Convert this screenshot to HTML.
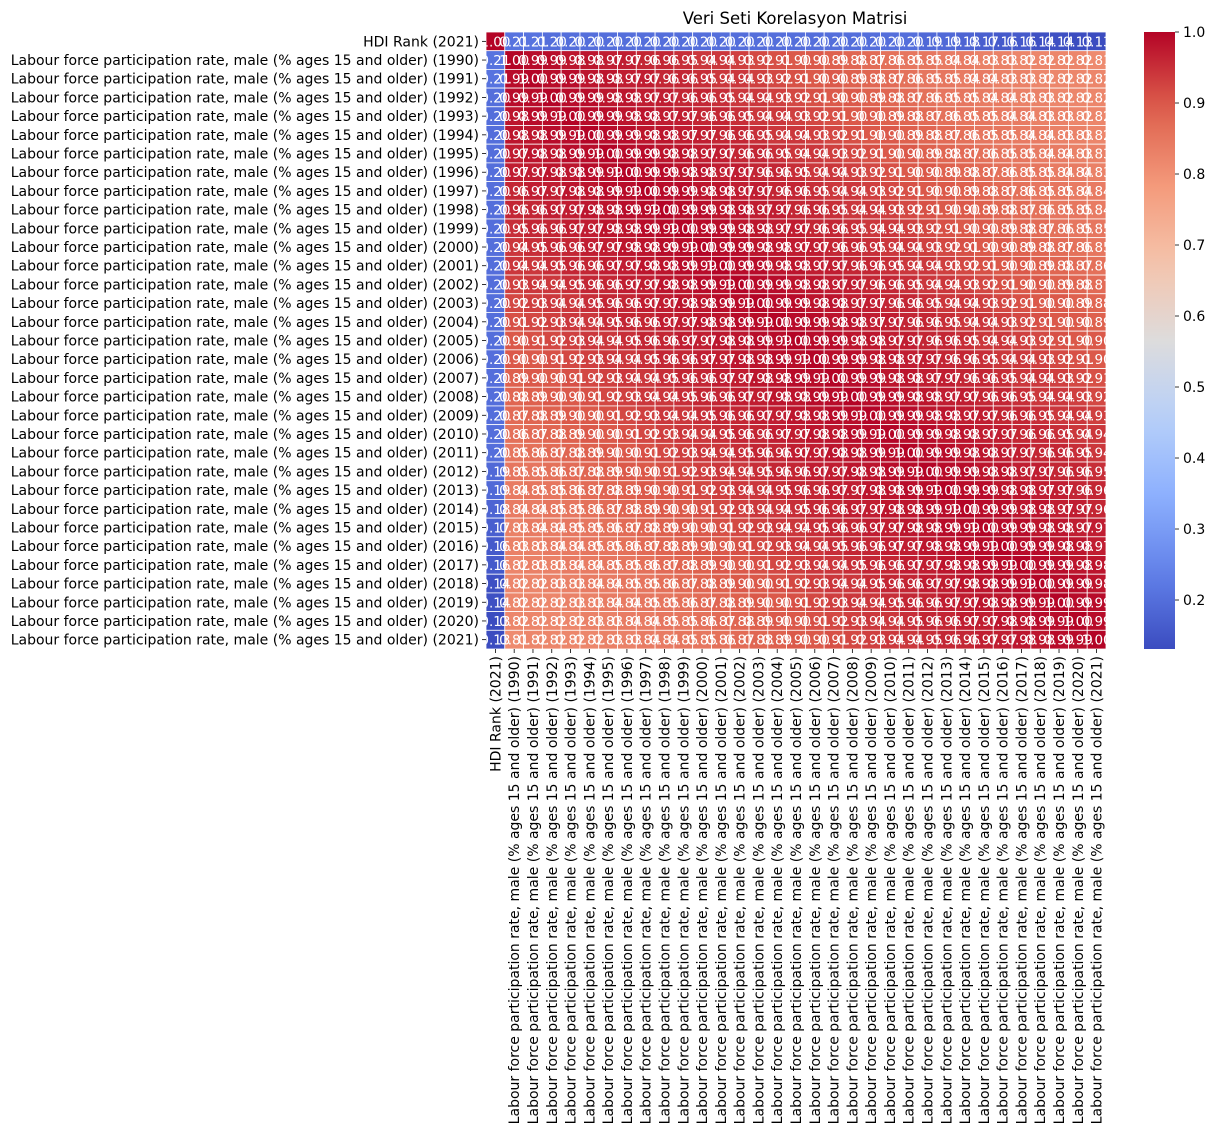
<!DOCTYPE html>
<html><head><meta charset="utf-8">
<style>
html,body{margin:0;padding:0;background:#fff;}
svg{display:block;font-family:"DejaVu Sans","Liberation Sans",sans-serif;}
</style></head>
<body>
<svg id="chart" width="1216" height="1133" viewBox="0 0 1216 1133" xmlns="http://www.w3.org/2000/svg">
<text x="795" y="24" font-size="16.5" text-anchor="middle" fill="#000">Veri Seti Korelasyon Matrisi</text>
<g id="cells"></g>
<g id="annots"></g>
<g id="ylabels"></g>
<g id="xlabels"></g>
<defs><linearGradient id="cbgrad" x1="0" y1="1" x2="0" y2="0"></linearGradient></defs>
<rect x="1144" y="32" width="31" height="617" fill="url(#cbgrad)"/>
<g id="cbticks"></g>
</svg>
<script>
const labels = ["HDI Rank (2021)"];
const years = [1990,1991,1992,1993,1994,1995,1996,1997,1998,1999,2000,2001,2002,2003,2004,2005,2006,2007,2008,2009,2010,2011,2012,2013,2014,2015,2016,2017,2018,2019,2020,2021];
years.forEach(y => labels.push("Labour force participation rate, male (% ages 15 and older) (" + y + ")"));
const hdiCorr = [1.00,0.21,0.21,0.20,0.20,0.20,0.20,0.20,0.20,0.20,0.20,0.20,0.20,0.20,0.20,0.20,0.20,0.20,0.20,0.20,0.20,0.20,0.20,0.19,0.19,0.18,0.17,0.16,0.16,0.14,0.14,0.13,0.13];
const body = [
[100,99,99,98,98,97,97,96,96,95,94,94,93,92,91,90,90,89,88,87,86,85,85,84,84,83,83,82,82,82,82,81],
[99,100,99,99,98,98,97,97,96,96,95,94,94,93,92,91,90,90,89,88,87,86,85,85,84,84,83,83,82,82,82,82],
[99,99,100,99,99,98,98,97,97,96,96,95,94,94,93,92,91,90,90,89,88,87,86,85,85,84,84,83,83,82,82,82],
[98,99,99,100,99,99,98,98,97,97,96,96,95,94,94,93,92,91,90,90,89,88,87,86,85,85,84,84,83,83,82,82],
[98,98,99,99,100,99,99,98,98,97,97,96,96,95,94,94,93,92,91,90,90,89,88,87,86,85,85,84,84,83,83,82],
[97,98,98,99,99,100,99,99,98,98,97,97,96,96,95,94,94,93,92,91,90,90,89,88,87,86,85,85,84,84,83,83],
[97,97,98,98,99,99,100,99,99,98,98,97,97,96,96,95,94,94,93,92,91,90,90,89,88,87,86,85,85,84,84,83],
[96,97,97,98,98,99,99,100,99,99,98,98,97,97,96,96,95,94,94,93,92,91,90,90,89,88,87,86,85,85,84,84],
[96,96,97,97,98,98,99,99,100,99,99,98,98,97,97,96,96,95,94,94,93,92,91,90,90,89,88,87,86,85,85,84],
[95,96,96,97,97,98,98,99,99,100,99,99,98,98,97,97,96,96,95,94,94,93,92,91,90,90,89,88,87,86,85,85],
[94,95,96,96,97,97,98,98,99,99,100,99,99,98,98,97,97,96,96,95,94,94,93,92,91,90,90,89,88,87,86,85],
[94,94,95,96,96,97,97,98,98,99,99,100,99,99,98,98,97,97,96,96,95,94,94,93,92,91,90,90,89,88,87,86],
[93,94,94,95,96,96,97,97,98,98,99,99,100,99,99,98,98,97,97,96,96,95,94,94,93,92,91,90,90,89,88,87],
[92,93,94,94,95,96,96,97,97,98,98,99,99,100,99,99,98,98,97,97,96,96,95,94,94,93,92,91,90,90,89,88],
[91,92,93,94,94,95,96,96,97,97,98,98,99,99,100,99,99,98,98,97,97,96,96,95,94,94,93,92,91,90,90,89],
[90,91,92,93,94,94,95,96,96,97,97,98,98,99,99,100,99,99,98,98,97,97,96,96,95,94,94,93,92,91,90,90],
[90,90,91,92,93,94,94,95,96,96,97,97,98,98,99,99,100,99,99,98,98,97,97,96,96,95,94,94,93,92,91,90],
[89,90,90,91,92,93,94,94,95,96,96,97,97,98,98,99,99,100,99,99,98,98,97,97,96,96,95,94,94,93,92,91],
[88,89,90,90,91,92,93,94,94,95,96,96,97,97,98,98,99,99,100,99,99,98,98,97,97,96,96,95,94,94,93,92],
[87,88,89,90,90,91,92,93,94,94,95,96,96,97,97,98,98,99,99,100,99,99,98,98,97,97,96,96,95,94,94,93],
[86,87,88,89,90,90,91,92,93,94,94,95,96,96,97,97,98,98,99,99,100,99,99,98,98,97,97,96,96,95,94,94],
[85,86,87,88,89,90,90,91,92,93,94,94,95,96,96,97,97,98,98,99,99,100,99,99,98,98,97,97,96,96,95,94],
[85,85,86,87,88,89,90,90,91,92,93,94,94,95,96,96,97,97,98,98,99,99,100,99,99,98,98,97,97,96,96,95],
[84,85,85,86,87,88,89,90,90,91,92,93,94,94,95,96,96,97,97,98,98,99,99,100,99,99,98,98,97,97,96,96],
[84,84,85,85,86,87,88,89,90,90,91,92,93,94,94,95,96,96,97,97,98,98,99,99,100,99,99,98,98,97,97,96],
[83,84,84,85,85,86,87,88,89,90,90,91,92,93,94,94,95,96,96,97,97,98,98,99,99,100,99,99,98,98,97,97],
[83,83,84,84,85,85,86,87,88,89,90,90,91,92,93,94,94,95,96,96,97,97,98,98,99,99,100,99,99,98,98,97],
[82,83,83,84,84,85,85,86,87,88,89,90,90,91,92,93,94,94,95,96,96,97,97,98,98,99,99,100,99,99,98,98],
[82,82,83,83,84,84,85,85,86,87,88,89,90,90,91,92,93,94,94,95,96,96,97,97,98,98,99,99,100,99,99,98],
[82,82,82,83,83,84,84,85,85,86,87,88,89,90,90,91,92,93,94,94,95,96,96,97,97,98,98,99,99,100,99,99],
[82,82,82,82,83,83,84,84,85,85,86,87,88,89,90,90,91,92,93,94,94,95,96,96,97,97,98,98,99,99,100,99],
[81,82,82,82,82,83,83,84,84,85,85,86,87,88,89,90,90,91,92,93,94,94,95,96,96,97,97,98,98,99,99,100]
];
const cbTicks = [0.2,0.3,0.4,0.5,0.6,0.7,0.8,0.9,1.0];

const NS = "http://www.w3.org/2000/svg";
const X0 = 486, X1 = 1106, Y0 = 32, Y1 = 649;
const N = labels.length;
const cw = (X1 - X0) / N, ch = (Y1 - Y0) / N;
const vmin = 0.131, vmax = 1.0;
const stops = [[0,[59,76,192]],[0.125,[98,130,234]],[0.25,[141,176,254]],[0.375,[184,208,249]],[0.5,[221,220,220]],[0.625,[245,196,172]],[0.75,[244,154,123]],[0.875,[222,96,77]],[1,[180,4,38]]];
function cmap(t){
  t = Math.max(0, Math.min(1, t));
  for (let i = 1; i < stops.length; i++) {
    if (t <= stops[i][0]) {
      const a = stops[i-1], b = stops[i], f = (t - a[0]) / (b[0] - a[0]);
      const c = a[1].map((v, k) => Math.round(v + (b[1][k] - v) * f));
      return "rgb(" + c.join(",") + ")";
    }
  }
}
function colorOf(v){ return cmap((v - vmin) / (vmax - vmin)); }
function xPos(j){ return X0 + j * cw; }
function yPos(i){ return Y0 + i * ch; }
function cbY(v){ return Y1 - (v - vmin) / (vmax - vmin) * (Y1 - Y0); }
function value(i, j){
  if (i === 0) return hdiCorr[j];
  if (j === 0) return hdiCorr[i];
  return body[i-1][j-1] / 100;
}
const cells = document.getElementById("cells");
const annots = document.getElementById("annots");
for (let i = 0; i < N; i++) {
  for (let j = 0; j < N; j++) {
    const v = value(i, j);
    const r = document.createElementNS(NS, "rect");
    r.setAttribute("x", xPos(j)); r.setAttribute("y", yPos(i));
    r.setAttribute("width", cw); r.setAttribute("height", ch);
    r.setAttribute("fill", colorOf(v));
    r.setAttribute("stroke", "#fff"); r.setAttribute("stroke-width", "0.8");
    
    
    cells.appendChild(r);
    const t = document.createElementNS(NS, "text");
    t.setAttribute("x", xPos(j) + cw / 2); t.setAttribute("y", yPos(i) + ch / 2 + 5);
    t.setAttribute("text-anchor", "middle"); t.setAttribute("font-size", "13.5");
    t.setAttribute("fill", "#fff");
    t.textContent = v.toFixed(2);
    
    
    annots.appendChild(t);
  }
}
const yl = document.getElementById("ylabels");
const xl = document.getElementById("xlabels");
for (let i = 0; i < N; i++) {
  const cy = yPos(i) + ch / 2;
  const tk = document.createElementNS(NS, "line");
  tk.setAttribute("x1", X0 - 4); tk.setAttribute("x2", X0); tk.setAttribute("y1", cy); tk.setAttribute("y2", cy);
  tk.setAttribute("stroke", "#000"); tk.setAttribute("stroke-width", "0.8");
  
  
  yl.appendChild(tk);
  const t = document.createElementNS(NS, "text");
  t.setAttribute("x", X0 - 7); t.setAttribute("y", cy + 5);
  t.setAttribute("text-anchor", "end"); t.setAttribute("font-size", "14");
  t.textContent = labels[i];
  
  
  yl.appendChild(t);

  const cx = xPos(i) + cw / 2;
  const tk2 = document.createElementNS(NS, "line");
  tk2.setAttribute("x1", cx); tk2.setAttribute("x2", cx); tk2.setAttribute("y1", Y1); tk2.setAttribute("y2", Y1 + 4);
  tk2.setAttribute("stroke", "#000"); tk2.setAttribute("stroke-width", "0.8");
  
  
  xl.appendChild(tk2);
  const t2 = document.createElementNS(NS, "text");
  t2.setAttribute("transform", "translate(" + (cx + 5) + "," + (Y1 + 7) + ") rotate(-90)");
  t2.setAttribute("text-anchor", "end"); t2.setAttribute("font-size", "14");
  t2.textContent = labels[i];
  
  
  xl.appendChild(t2);
}
const grad = document.getElementById("cbgrad");
for (let k = 0; k <= 20; k++) {
  const s = document.createElementNS(NS, "stop");
  s.setAttribute("offset", k / 20);
  s.setAttribute("stop-color", cmap(k / 20));
  grad.appendChild(s);
}
const cbt = document.getElementById("cbticks");
cbTicks.forEach(v => {
  const y = cbY(v);
  const l = document.createElementNS(NS, "line");
  l.setAttribute("x1", 1175); l.setAttribute("x2", 1179); l.setAttribute("y1", y); l.setAttribute("y2", y);
  l.setAttribute("stroke", "#000"); l.setAttribute("stroke-width", "0.8");
  
  
  cbt.appendChild(l);
  const t = document.createElementNS(NS, "text");
  t.setAttribute("x", 1183); t.setAttribute("y", y + 5);
  t.setAttribute("font-size", "14");
  t.textContent = v.toFixed(1);
  
  
  cbt.appendChild(t);
});
</script>
</body></html>
